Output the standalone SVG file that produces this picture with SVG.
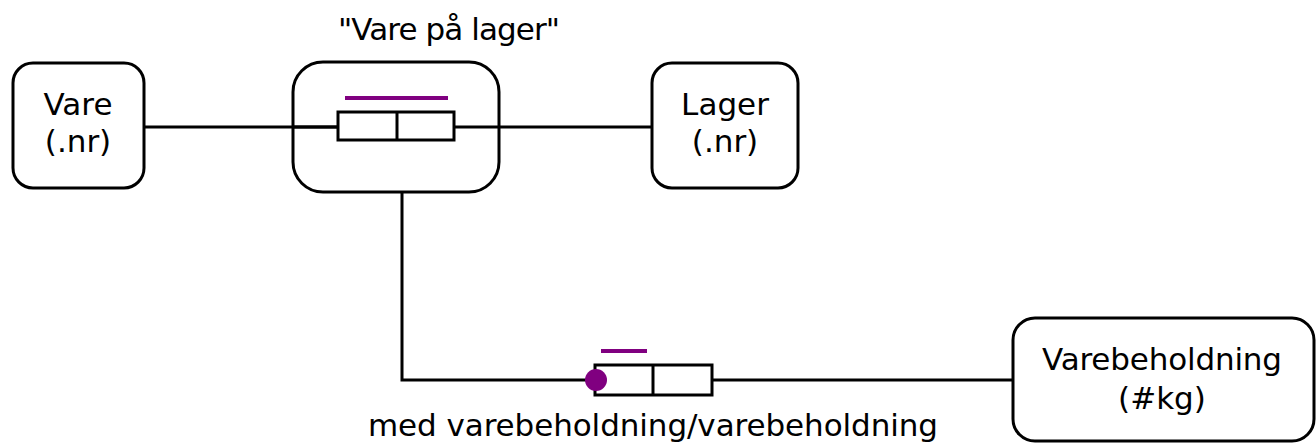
<svg xmlns="http://www.w3.org/2000/svg" width="1316" height="443" viewBox="0 0 1316 443">
<style>
.box{fill:#fff;stroke:#000;stroke-width:3}
.ln{fill:none;stroke:#000;stroke-width:3}
.key{fill:#fff;stroke:#000;stroke-width:3}
.uq{stroke:#800080;stroke-width:4}
text{font-family:"DejaVu Sans",Verdana,sans-serif;font-size:31px;fill:#000;text-anchor:middle}
</style>
<rect width="1316" height="443" fill="#fff"/>
<g id="connectors">
<line class="ln" x1="144" y1="127" x2="652" y2="127"/>
<polyline class="ln" points="402,192 402,380 595,380"/>
<line class="ln" x1="712" y1="380" x2="1013" y2="380"/>
</g>
<g id="vare">
<rect class="box" x="13" y="63" width="131" height="125" rx="20"/>
<text x="78" y="115">Vare</text>
<text x="78" y="152">(.nr)</text>
</g>
<g id="vare-paa-lager">
<rect class="box" x="293" y="62" width="206" height="130" rx="30" style="fill:none"/>
<line class="ln" x1="293" y1="127" x2="338" y2="127"/>
<rect class="key" x="338" y="112" width="116" height="28"/>
<line class="ln" x1="397" y1="112" x2="397" y2="140"/>
<line class="uq" x1="345" y1="98" x2="448" y2="98"/>
<text x="449" y="40" textLength="222">"Vare på lager"</text>
</g>
<g id="lager">
<rect class="box" x="652" y="63" width="146" height="125" rx="20"/>
<text x="725" y="115">Lager</text>
<text x="725" y="152">(.nr)</text>
</g>
<g id="fact">
<rect class="key" x="595" y="365" width="117" height="30"/>
<line class="ln" x1="653" y1="365" x2="653" y2="395"/>
<line class="uq" x1="601" y1="351" x2="647" y2="351"/>
<circle cx="596" cy="380" r="11" fill="#800080"/>
<text x="653" y="436" textLength="570">med varebeholdning/varebeholdning</text>
</g>
<g id="varebeholdning">
<rect class="box" x="1013" y="318" width="301" height="123" rx="22"/>
<text x="1162" y="370" textLength="240">Varebeholdning</text>
<text x="1162" y="409">(#kg)</text>
</g>
</svg>
